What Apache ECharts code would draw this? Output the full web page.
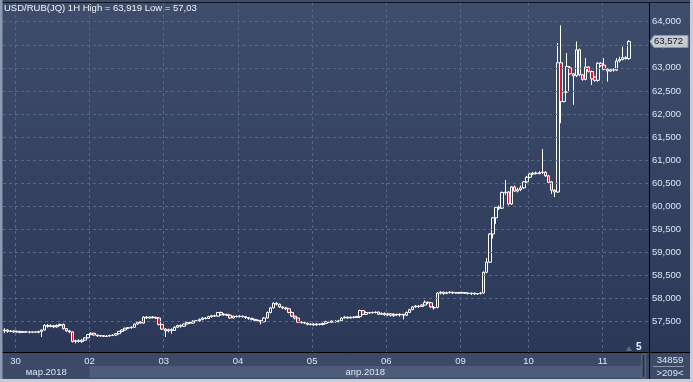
<!DOCTYPE html>
<html><head><meta charset="utf-8">
<script src="https://cdn.jsdelivr.net/npm/echarts@6/dist/echarts.min.js"></script>
<style>html,body{margin:0;padding:0;background:#c7cdd6;}#c{width:693px;height:382px;}</style>
</head><body><div id="c"></div>
<script>
// ---- data (hourly USD/RUB bars) ----
const opens = [57.30,57.32,57.29,57.30,57.28,57.29,57.27,57.28,57.28,57.27,57.28,57.27,57.29,57.32,57.42,57.40,57.41,57.39,57.42,57.44,57.35,57.30,57.28,57.07,57.09,57.07,57.10,57.15,
57.22,57.25,57.21,57.19,57.20,57.18,57.19,57.20,57.21,57.24,57.29,57.32,57.36,57.37,57.38,57.45,57.50,57.47,57.60,57.58,57.60,57.59,57.58,57.44,
57.34,57.30,57.33,57.31,57.38,57.42,57.40,57.45,57.48,57.47,57.51,57.52,57.55,57.58,57.57,57.61,57.63,57.62,57.70,57.65,57.66,57.64,57.58,57.62,
57.61,57.62,57.61,57.59,57.57,57.55,57.53,57.52,57.50,57.58,57.70,57.80,57.90,57.88,57.82,57.80,57.78,57.70,57.62,57.58,57.49,57.48,57.47,57.44,
57.45,57.43,57.45,57.44,57.46,57.50,57.49,57.51,57.50,57.52,57.58,57.60,57.58,57.60,57.59,57.61,57.74,57.66,57.70,57.69,57.70,57.71,57.66,57.68,
57.65,57.67,57.64,57.66,57.65,57.66,57.64,57.70,57.76,57.82,57.84,57.83,57.86,57.92,57.91,57.80,57.81,58.12,58.14,58.11,58.13,58.14,58.12,58.13,
58.12,58.13,58.12,58.11,58.12,58.10,58.11,58.12,58.57,58.79,59.40,59.75,59.98,59.96,60.30,60.31,60.05,60.42,60.33,60.36,60.40,60.53,
60.63,60.70,60.72,60.71,60.73,60.74,60.66,60.53,60.35,60.31,63.11,62.27,62.48,63.00,62.87,62.83,63.39,62.85,62.75,63.02,62.92,62.80,62.73,63.10,
63.06,62.97,62.93,62.96,62.95,63.15,63.18,63.22,63.20];
const closes = [57.32,57.29,57.30,57.28,57.29,57.27,57.28,57.28,57.27,57.28,57.27,57.29,57.32,57.42,57.40,57.41,57.39,57.42,57.44,57.35,57.30,57.28,57.07,57.09,57.07,57.10,57.15,57.22,
57.25,57.21,57.19,57.20,57.18,57.19,57.20,57.21,57.24,57.29,57.32,57.36,57.37,57.38,57.45,57.49,57.47,57.60,57.58,57.60,57.59,57.58,57.44,57.34,
57.30,57.33,57.31,57.38,57.42,57.40,57.45,57.48,57.47,57.51,57.52,57.55,57.58,57.57,57.61,57.63,57.62,57.70,57.65,57.66,57.64,57.58,57.62,57.61,
57.62,57.61,57.59,57.57,57.55,57.53,57.52,57.50,57.58,57.70,57.80,57.90,57.88,57.82,57.80,57.78,57.70,57.62,57.58,57.49,57.48,57.47,57.44,57.45,
57.43,57.45,57.44,57.46,57.50,57.49,57.51,57.50,57.52,57.58,57.60,57.58,57.60,57.59,57.61,57.74,57.66,57.70,57.69,57.70,57.71,57.66,57.68,57.65,
57.67,57.64,57.66,57.65,57.66,57.64,57.70,57.76,57.82,57.84,57.83,57.86,57.92,57.91,57.82,57.81,58.12,58.14,58.11,58.13,58.14,58.12,58.13,58.12,
58.13,58.12,58.11,58.12,58.10,58.11,58.12,58.57,58.79,59.40,59.75,59.98,59.96,60.30,60.31,60.05,60.42,60.33,60.36,60.40,60.53,60.63,
60.70,60.72,60.71,60.73,60.74,60.66,60.52,60.35,60.31,63.11,62.27,62.48,63.03,62.87,62.83,63.39,62.85,62.75,63.02,62.92,62.76,62.73,63.10,63.05,
62.97,62.93,62.96,62.95,63.15,63.18,63.22,63.20,63.572];
const lows = [57.25,57.26,57.27,57.26,57.26,57.25,57.26,57.26,57.25,57.26,57.26,57.25,57.17,57.31,57.37,57.38,57.36,57.37,57.40,57.33,57.28,57.25,57.05,57.03,57.05,57.04,57.09,57.14,
57.21,57.20,57.17,57.17,57.17,57.17,57.18,57.19,57.20,57.23,57.27,57.31,57.34,57.35,57.37,57.43,57.46,57.46,57.56,57.57,57.57,57.56,57.42,57.32,
57.17,57.27,57.24,57.30,57.36,57.37,57.39,57.44,57.45,57.46,57.49,57.50,57.53,57.55,57.56,57.59,57.60,57.61,57.63,57.63,57.62,57.57,57.57,57.59,
57.59,57.59,57.56,57.54,57.53,57.51,57.49,57.44,57.48,57.57,57.68,57.79,57.85,57.80,57.77,57.75,57.68,57.60,57.55,57.47,57.46,57.45,57.42,57.42,
57.41,57.41,57.42,57.42,57.45,57.47,57.48,57.48,57.49,57.51,57.57,57.56,57.57,57.57,57.58,57.58,57.64,57.65,57.67,57.68,57.68,57.65,57.65,57.63,
57.62,57.61,57.60,57.62,57.61,57.55,57.62,57.69,57.75,57.80,57.80,57.82,57.85,57.88,57.80,57.76,57.79,58.09,58.08,58.10,58.11,58.10,58.11,58.10,
58.11,58.10,58.09,58.08,58.08,58.08,58.09,58.11,58.55,58.77,59.30,59.62,59.92,59.94,60.25,60.02,60.03,60.31,60.30,60.33,60.38,60.51,
60.61,60.68,60.69,60.69,60.70,60.64,60.50,60.27,60.20,60.29,61.80,62.25,62.46,62.85,62.20,62.80,62.82,62.72,62.73,62.90,62.63,62.70,62.70,63.02,
62.95,62.70,62.91,62.92,62.93,63.12,63.16,63.18,63.18];
const highs = [57.36,57.34,57.32,57.31,57.31,57.30,57.30,57.29,57.30,57.29,57.29,57.30,57.33,57.45,57.45,57.44,57.43,57.44,57.46,57.46,57.36,57.32,57.29,57.11,57.12,57.12,57.16,57.23,
57.27,57.26,57.22,57.21,57.21,57.21,57.22,57.23,57.25,57.30,57.34,57.37,57.38,57.40,57.46,57.50,57.51,57.62,57.62,57.61,57.62,57.61,57.60,57.45,
57.36,57.35,57.36,57.40,57.43,57.44,57.46,57.50,57.50,57.53,57.54,57.57,57.60,57.60,57.63,57.64,57.65,57.71,57.72,57.68,57.67,57.66,57.63,57.63,
57.64,57.63,57.62,57.60,57.59,57.56,57.55,57.54,57.60,57.72,57.82,57.92,57.92,57.89,57.84,57.82,57.80,57.72,57.63,57.59,57.51,57.50,57.48,57.47,
57.47,57.47,57.46,57.48,57.52,57.52,57.53,57.53,57.54,57.60,57.62,57.61,57.61,57.62,57.63,57.76,57.75,57.72,57.71,57.72,57.72,57.72,57.70,57.70,
57.69,57.68,57.68,57.67,57.68,57.67,57.72,57.78,57.84,57.86,57.86,57.88,57.96,57.94,57.93,57.84,58.14,58.16,58.15,58.15,58.16,58.15,58.14,58.14,
58.15,58.14,58.13,58.13,58.13,58.12,58.14,58.59,58.88,59.42,59.77,60.00,60.02,60.32,60.57,60.33,60.44,60.45,60.40,60.45,60.55,60.66,
60.72,60.74,60.75,60.76,61.24,60.76,60.68,60.55,60.37,63.54,63.92,62.50,63.32,63.04,62.89,63.57,63.42,62.87,63.21,63.04,62.94,62.82,63.12,63.12,
63.21,62.99,62.99,62.99,63.21,63.24,63.46,63.25,63.60];

const dayLabels = ['30','02','03','04','05','06','09','10','11'];
const dayStarts = [4, 28, 52, 76, 100, 124, 148, 170, 194];
const monthLabels = ['мар.2018', 'апр.2018'];
const monthStartDay = [0, 1]; // index into dayStarts where each month begins (0 = chart start)
const yTicks = [57.5,58.0,58.5,59.0,59.5,60.0,60.5,61.0,61.5,62.0,62.5,63.0,63.5,64.0];
const totalSlots = 209;
const rightMarginBars = 5;
const footerCount = '34859';
const footerBars = '>209<';
const titleText = 'USD/RUB(JQ) 1H High = 63,919 Low = 57,03';

// ---- build ----
const Y_MIN = 56.8435, Y_MAX = 64.4052;
const FONT = 'Liberation Sans, Arial, sans-serif';
const cats = [];
for (let i = 0; i < totalSlots; i++) {
  const k = dayStarts.indexOf(i);
  cats.push(k >= 0 ? dayLabels[k] : '');
}
const ohlc = opens.map((o, i) => [o, closes[i], lows[i], highs[i]]);
const lastClose = closes[closes.length - 1];
const fmt = v => Number(v).toFixed(3).replace('.', ',');
const isDay = (i, v) => v !== '';

const chart = echarts.init(document.getElementById('c'), null, {renderer: 'canvas'});
const option = {
  animation: false,
  title: {text: titleText, left: 4, top: 3, padding: 0,
    textStyle: {color: '#eef2fa', fontSize: 9.5, fontWeight: 'normal', fontFamily: FONT}},
  grid: {left: 3, right: 44, top: 3, bottom: 30, containLabel: false},
  xAxis: {
    type: 'category', data: cats, boundaryGap: true,
    axisLine: {show: false}, axisTick: {show: false},
    axisLabel: {interval: isDay, color: '#dde6f5', fontSize: 9.5, fontFamily: FONT, margin: 4, padding: [0, 3, 0, 0]},
    splitLine: {show: true, interval: isDay, lineStyle: {color: '#56678a', type: [3, 3], width: 1}}
  },
  yAxis: {
    type: 'value', position: 'right', min: Y_MIN, max: Y_MAX, scale: true,
    axisLine: {show: true, onZero: false, lineStyle: {color: '#000', width: 1}},
    axisTick: {show: false},
    splitLine: {show: false},
    axisLabel: {customValues: yTicks, formatter: fmt, color: '#dde6f5', fontSize: 9.5, fontFamily: FONT, margin: 3}
  },
  series: [
    {
      type: 'line', data: [], silent: true, z: 1,
      markLine: {silent: true, symbol: ['none', 'none'], animation: false,
        lineStyle: {color: '#56678a', type: [3, 3], width: 1}, label: {show: false},
        data: yTicks.map(v => ({yAxis: v}))}
    },
    {
      type: 'candlestick', data: ohlc, barWidth: 3, z: 3,
      itemStyle: {color: 'rgba(0,0,0,0)', color0: '#e3132f', borderColor: '#ffffff', borderColor0: '#ffffff', borderColorDoji: '#ffffff', borderWidth: 1}
    }
  ]
};
chart.setOption(option);

// decorations placed from the axes
const px = i => chart.convertToPixel({xAxisIndex: 0}, i);
const py = v => chart.convertToPixel({yAxisIndex: 0}, v);
const bw = px(1) - px(0);
const edge = i => px(i) - bw / 2;
const gl = 3, gr = 649, gb = 352;
const mStarts = monthStartDay.map((d, k) => k === 0 ? gl : edge(dayStarts[d]));
const mEnds = mStarts.slice(1).concat([edge(totalSlots) - 8]);
const g = [];
g.push({type: 'rect', z: -10, silent: true, shape: {x: 0, y: 0, width: 693, height: 352},
  style: {fill: new echarts.graphic.LinearGradient(0, 0, 0, 1, [{offset: 0, color: '#3f4d6c'}, {offset: 1, color: '#2b3857'}])}});
g.push({type: 'rect', z: -10, silent: true, shape: {x: 0, y: 352, width: 693, height: 30}, style: {fill: '#3c4a68'}});
g.push({type: 'rect', z: -9, silent: true, shape: {x: mStarts[1], y: 366, width: mEnds[1] - mStarts[1], height: 12}, style: {fill: '#4d5c78'}});
monthLabels.forEach((t, k) => {
  g.push({type: 'text', z: 50, silent: true, style: {text: t, x: (mStarts[k] + mEnds[k]) / 2, y: 372, align: 'center', verticalAlign: 'middle',
    fill: '#dde6f5', font: '9.5px ' + FONT}});
});
// current price tag
const yc = py(lastClose);
g.push({type: 'polygon', z: 70, silent: true, shape: {points: [[650, yc], [654, yc - 6], [688, yc - 6], [688, yc + 6], [654, yc + 6]]},
  style: {fill: '#c6cad2', stroke: '#8f96a3', lineWidth: 1}});
g.push({type: 'text', z: 71, silent: true, style: {text: fmt(lastClose), x: 654, y: yc, verticalAlign: 'middle', fill: '#101828', font: '9.5px ' + FONT}});
// scrollbar handle
g.push({type: 'rect', z: 50, silent: true, shape: {x: 642, y: 354, width: 3, height: 24}, style: {fill: '#262d3c', stroke: '#6b7588', lineWidth: 1}});
// right-margin marker
g.push({type: 'polygon', z: 50, silent: true, shape: {points: [[626, 351], [632, 351], [629, 346]]}, style: {fill: '#5d6a82'}});
g.push({type: 'text', z: 50, silent: true, style: {text: String(rightMarginBars), x: 636, y: 347, verticalAlign: 'middle', fill: '#eef2fa', font: 'bold 10px ' + FONT}});
// footer box
g.push({type: 'text', z: 50, silent: true, style: {text: footerCount, x: 670, y: 360, align: 'center', verticalAlign: 'middle', fill: '#dde6f5', font: '9.5px ' + FONT}});
g.push({type: 'line', z: 50, silent: true, shape: {x1: 653, y1: 366.5, x2: 684, y2: 366.5}, style: {stroke: '#8d97aa', lineWidth: 1}});
g.push({type: 'text', z: 50, silent: true, style: {text: footerBars, x: 670, y: 373, align: 'center', verticalAlign: 'middle', fill: '#dde6f5', font: '9.5px ' + FONT}});
// frame lines
g.push({type: 'line', z: 60, silent: true, shape: {x1: 0, y1: 352.5, x2: 693, y2: 352.5}, style: {stroke: '#000', lineWidth: 1}});
g.push({type: 'line', z: 60, silent: true, shape: {x1: 649.5, y1: 2, x2: 649.5, y2: 379}, style: {stroke: '#000', lineWidth: 1}});
g.push({type: 'line', z: 60, silent: true, shape: {x1: 0, y1: 2.5, x2: 693, y2: 2.5}, style: {stroke: '#10141c', lineWidth: 1}});
g.push({type: 'rect', z: 60, silent: true, shape: {x: 0, y: 0, width: 2.5, height: 382}, style: {fill: '#8c9ab2'}});
g.push({type: 'rect', z: 60, silent: true, shape: {x: 690, y: 0, width: 3, height: 382}, style: {fill: '#c7cdd6'}});
g.push({type: 'rect', z: 60, silent: true, shape: {x: 0, y: 379, width: 693, height: 3}, style: {fill: '#c7cdd6'}});
chart.setOption({graphic: {elements: g}});
</script>
</body></html>
